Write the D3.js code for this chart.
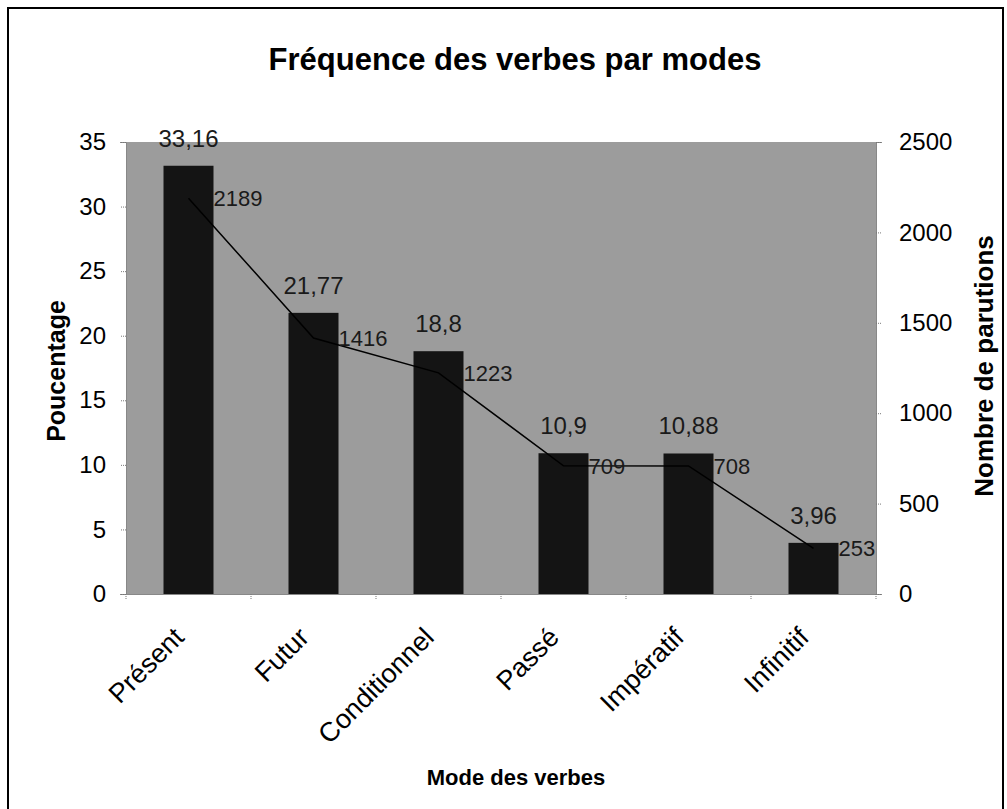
<!DOCTYPE html>
<html><head><meta charset="utf-8">
<script src="https://cdn.jsdelivr.net/npm/d3@7"></script>
<style>body{margin:0;background:#fff}svg{display:block}text{font-family:"Liberation Sans",Arial,sans-serif}</style>
</head><body>
<svg id="c" width="1007" height="809"></svg>
<script>
const categories = ["Présent","Futur","Conditionnel","Passé","Impératif","Infinitif"];
const percentages = [33.16,21.77,18.8,10.9,10.88,3.96];
const percentLabels = ["33,16","21,77","18,8","10,9","10,88","3,96"];
const counts = [2189,1416,1223,709,708,253];
const leftTicks = [0,5,10,15,20,25,30,35];
const rightTicks = [0,500,1000,1500,2000,2500];

const svg = d3.select("#c");
const L=126, R=876, T=142, B=594;
const FF = "Liberation Sans, Arial, sans-serif";

svg.append("rect").attr("x",8).attr("y",8).attr("width",995).attr("height",820)
  .attr("fill","#fff").attr("stroke","#000").attr("stroke-width",2);

const x = d3.scaleBand().domain(categories).range([L,R]).paddingInner(0.6).paddingOuter(0.3);
const xc = d3.scaleBand().domain(categories).range([L,R]);
const yL = d3.scaleLinear().domain([0,35]).range([B,T]);
const yR = d3.scaleLinear().domain([0,2500]).range([B,T]);

svg.append("rect").attr("x",L).attr("y",T).attr("width",R-L).attr("height",B-T).attr("fill","#9c9c9c");

svg.selectAll(".bar").data(categories).enter().append("rect")
  .attr("x",d=>x(d)).attr("width",x.bandwidth())
  .attr("y",(d,i)=>yL(percentages[i])).attr("height",(d,i)=>B-yL(percentages[i]))
  .attr("fill","#141414");

const line = d3.line().x((d,i)=>xc(categories[i])+xc.bandwidth()/2).y(d=>yR(d));
svg.append("path").datum(counts).attr("d",line).attr("fill","none").attr("stroke","#000").attr("stroke-width",1.5);

// left axis
const ax = svg.append("g").attr("transform",`translate(${L},0)`).call(d3.axisLeft(yL).tickValues(leftTicks).tickSize(6).tickPadding(14));
ax.select(".domain").attr("stroke","#888");
ax.selectAll(".tick line").attr("stroke","#777").attr("stroke-dasharray","1,1");
ax.selectAll("text").attr("font-size",24).attr("fill","#000").attr("font-family",FF);
const ar = svg.append("g").attr("transform",`translate(${R},0)`).call(d3.axisRight(yR).tickValues(rightTicks).tickFormat(d3.format("d")).tickSize(6).tickPadding(17));
ar.select(".domain").attr("stroke","#888");
ar.selectAll(".tick line").attr("stroke","#777").attr("stroke-dasharray","1,1");
ar.selectAll("text").attr("font-size",24).attr("fill","#000").attr("font-family",FF);

// x axis
const axB = svg.append("g").attr("transform",`translate(0,${B})`).call(d3.axisBottom(xc).tickSize(0).tickFormat(""));
axB.select(".domain").attr("stroke","#888");
svg.selectAll(".xt").data(categories.concat([null])).enter().append("line")
  .attr("x1",(d,i)=>L+i*xc.step()).attr("x2",(d,i)=>L+i*xc.step())
  .attr("y1",B).attr("y2",B+6).attr("stroke","#777").attr("stroke-dasharray","1,1");
svg.selectAll(".xl").data(categories).enter().append("text")
  .attr("transform",d=>`translate(${xc(d)+xc.bandwidth()/2-3},${B+45}) rotate(-45)`)
  .attr("text-anchor","end").attr("font-size",27).text(d=>d);

// data labels
svg.selectAll(".pl").data(categories).enter().append("text")
  .attr("x",d=>x(d)+x.bandwidth()/2).attr("y",(d,i)=>yL(percentages[i])-19)
  .attr("text-anchor","middle").attr("font-size",24).attr("fill","#1a1a1a").text((d,i)=>percentLabels[i]);
svg.selectAll(".cl").data(categories).enter().append("text")
  .attr("x",d=>xc(d)+xc.bandwidth()/2+25).attr("y",(d,i)=>yR(counts[i])).attr("dy","0.35em")
  .attr("font-size",22).attr("fill","#1a1a1a").text((d,i)=>counts[i]);

// titles
svg.append("text").attr("x",515).attr("y",70).attr("text-anchor","middle").attr("font-size",31).attr("font-weight","bold").text("Fréquence des verbes par modes");
svg.append("text").attr("x",516).attr("y",785).attr("text-anchor","middle").attr("font-size",22).attr("font-weight","bold").text("Mode des verbes");
svg.append("text").attr("transform",`translate(65,371) rotate(-90)`).attr("text-anchor","middle").attr("font-size",25).attr("font-weight","bold").text("Poucentage");
svg.append("text").attr("transform",`translate(993,366) rotate(-90)`).attr("text-anchor","middle").attr("font-size",26).attr("font-weight","bold").text("Nombre de parutions");
</script>
</body></html>
